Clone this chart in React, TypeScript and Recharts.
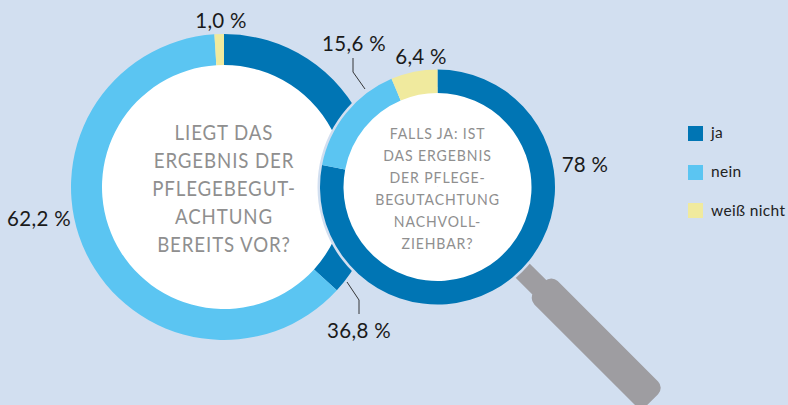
import React from "react";
import { PieChart, Pie, Cell } from "recharts";

const categories = ["ja", "nein", "weiß nicht"];
const colors = ["#0075b4", "#5bc5f2", "#f0ea9e"];
const leftValues = [36.8, 62.2, 1.0];
const rightValues = [78, 15.6, 6.4];
const leftTitle = ["LIEGT DAS", "ERGEBNIS DER", "PFLEGEBEGUT-", "ACHTUNG", "BEREITS VOR?"];
const rightTitle = ["FALLS JA: IST", "DAS ERGEBNIS", "DER PFLEGE-", "BEGUTACHTUNG", "NACHVOLL-", "ZIEHBAR?"];

const BG = "#d2dff0";
const GREY = "#9e9da1";
const TITLE = "#8f8f8f";
const FONT = "Lato, sans-serif";
const toRows = (vals: number[]) => vals.map((value, i) => ({ name: categories[i], value }));
const one = [{ name: "disc", value: 1 }];

const commonPie = { dataKey: "value", startAngle: 90, endAngle: -270, stroke: "none", isAnimationActive: false, paddingAngle: 0 } as const;
const layer = { position: "absolute", left: 0, top: 0 } as const;

function Layer({ children }: any) {
  return (
    <div style={layer}>
      <PieChart width={788} height={405} margin={{ top: 0, right: 0, bottom: 0, left: 0 }}>
        {children}
      </PieChart>
    </div>
  );
}

function Txt({ x, y, s, size = 20.5, fill = "#1a1a1a", anchor = "middle", ls = 0.3, sx = 1 }: any) {
  return (
    <text
      transform={`translate(${x} ${y}) scale(${sx} 1)`}
      fontSize={size}
      fill={fill}
      textAnchor={anchor}
      fontFamily={FONT}
      letterSpacing={ls}
    >
      {s}
    </text>
  );
}

export default function App() {
  return (
    <div style={{ ...layer, width: 788, height: 405, background: BG, overflow: "hidden" }}>
      <Layer>
        <Pie {...commonPie} data={one} cx={224} cy={187} innerRadius={0} outerRadius={125} fill="#ffffff" />
      </Layer>
      <Layer>
        <Pie {...commonPie} data={toRows(leftValues)} cx={224} cy={187} innerRadius={122} outerRadius={153}>
          {leftValues.map((_, i) => <Cell key={i} fill={colors[i]} />)}
        </Pie>
      </Layer>
      <svg width={788} height={405} style={layer}>
        <g fill={GREY}>
          <rect transform="translate(523 271) rotate(45)" x={-5} y={-10} width={30} height={20} />
          <rect transform="translate(540 286) rotate(45)" x={0} y={-16} width={160} height={33} rx={9} />
        </g>
      </svg>
      <Layer>
        <Pie {...commonPie} data={one} cx={437.5} cy={187} innerRadius={0} outerRadius={120} fill={BG} />
      </Layer>
      <Layer>
        <Pie {...commonPie} data={one} cx={437.5} cy={187} innerRadius={0} outerRadius={100} fill="#ffffff" />
      </Layer>
      <Layer>
        <Pie {...commonPie} data={toRows(rightValues)} cx={437.5} cy={187} innerRadius={94} outerRadius={117.5}>
          {rightValues.map((_, i) => <Cell key={i} fill={colors[i]} />)}
        </Pie>
      </Layer>
      <svg width={788} height={405} style={layer}>
        {leftTitle.map((s, i) => (
          <Txt key={s} x={224} y={[140, 168, 196, 224, 252][i]} s={s} size={21} fill={TITLE} ls={1} sx={0.89} />
        ))}
        {rightTitle.map((s, i) => (
          <Txt key={s} x={437.5} y={[139, 161, 183, 205, 227, 249][i]} s={s} size={16} fill={TITLE} ls={1} sx={0.88} />
        ))}
        <Txt x={221} y={28} s="1,0 %" />
        <Txt x={354} y={51} s="15,6 %" />
        <Txt x={421} y={64} s="6,4 %" />
        <Txt x={585} y={172} s="78 %" />
        <Txt x={39} y={226} s="62,2 %" />
        <Txt x={359} y={338} s="36,8 %" />
        <polyline points="353,58 353,72 365,89" fill="none" stroke="#222" strokeWidth={0.9} />
        <polyline points="347,282 359,300 359,314" fill="none" stroke="#222" strokeWidth={0.9} />
        {categories.map((c, i) => (
          <g key={c}>
            <rect x={688} y={[126, 165, 203][i]} width={15} height={15} fill={colors[i]} />
            <Txt x={711} y={[138, 177, 216][i]} s={c} size={15.5} anchor="start" fill="#222" ls={0.35} />
          </g>
        ))}
      </svg>
    </div>
  );
}
